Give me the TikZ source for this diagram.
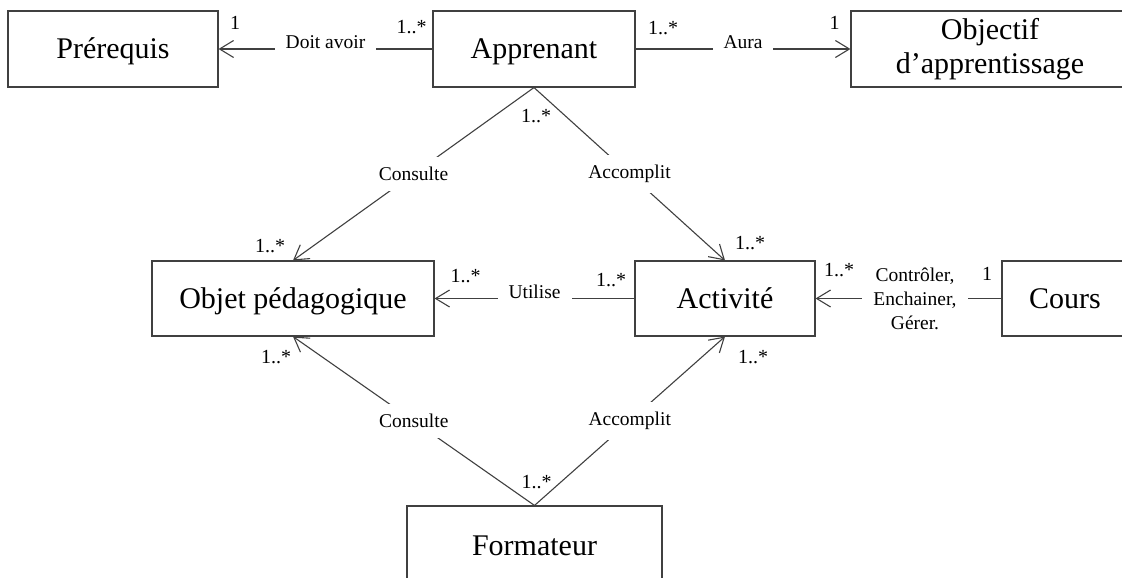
\documentclass[tikz,border=0pt]{standalone}
\usepackage{fontspec}
\setmainfont{Liberation Serif}
\usepackage{tikz}
\usetikzlibrary{arrows.meta}
\definecolor{lnc}{HTML}{404040}

\begin{document}
\begin{tikzpicture}[x=1pt,y=-1pt,>={Straight Barb[length=14pt,width=17pt]},
  box/.style={draw=lnc,line width=1.1pt,inner sep=0pt,font=\fontsize{30}{34}\selectfont},
  oneline/.style={text height=20pt,text depth=0pt},
  assoc/.style={->,draw=lnc,line width=1.1pt},
  lbl/.style={fill=white,inner xsep=11pt,inner ysep=10pt,font=\fontsize{19.5}{24}\selectfont},
  mult/.style={inner sep=0pt,font=\fontsize{20}{24}\selectfont}]
  \useasboundingbox (0,0) rectangle (1122,578);
  \clip (0,0) rectangle (1122,578);
  % Classes
  \node[box,oneline,minimum width=210pt,minimum height=76pt] (pre) at (113,49) {Prérequis};
  \node[box,oneline,minimum width=202pt,minimum height=76pt] (app) at (534,49) {Apprenant};
  \node[box,align=center,minimum width=278pt,minimum height=76pt] (obj) at (990,49) {Objectif\\d’apprentissage};
  \node[box,oneline,minimum width=282pt,minimum height=75pt] (op) at (293,298.5) {Objet pédagogique};
  \node[box,oneline,minimum width=180pt,minimum height=75pt] (act) at (725,298.5) {Activité};
  \node[box,oneline,minimum width=126pt,minimum height=75pt] (cours) at (1065,298.5) {Cours};
  \node[box,oneline,minimum width=255pt,minimum height=78pt] (form) at (534.5,545) {Formateur};
  % Associations
  \draw[assoc] (app.west) -- node[lbl,anchor=base] (l1) {Doit avoir} (pre.east);
  \draw[assoc] (app.east) -- node[lbl,anchor=base] (l2) {Aura} (obj.west);
  \draw[assoc] (app.south) -- node[lbl] (l3) {Consulte} (op.north);
  \draw[assoc] (app.south) -- node[lbl] (l4) {Accomplit} (act.north);
  \draw[assoc] (act.west) -- node[lbl,anchor=base] (l5) {Utilise} (op.east);
  \draw[assoc] (cours.west) -- node[lbl,align=center,pos=0.465] (l6) {Contrôler,\\Enchainer,\\Gérer.} (act.east);
  \draw[assoc] (form.north) -- node[lbl] (l7) {Consulte} (op.south);
  \draw[assoc] (form.north) -- node[lbl] (l8) {Accomplit} (act.south);
  % Multiplicities
  \node[mult] (m1) at (235,22.5) {1};
  \node[mult] (m2) at (411.5,27) {1..*};
  \node[mult] (m3) at (663,28) {1..*};
  \node[mult] (m4) at (834.5,22.5) {1};
  \node[mult] (m5) at (536,116.5) {1..*};
  \node[mult] (m6) at (270,246) {1..*};
  \node[mult] (m7) at (750,243.5) {1..*};
  \node[mult] (m8) at (465.5,276.5) {1..*};
  \node[mult] (m9) at (611,280) {1..*};
  \node[mult] (m10) at (839,270.5) {1..*};
  \node[mult] (m11) at (987,274) {1};
  \node[mult] (m12) at (276,357) {1..*};
  \node[mult] (m13) at (753,357) {1..*};
  \node[mult] (m14) at (536.5,482) {1..*};
\end{tikzpicture}
\end{document}
